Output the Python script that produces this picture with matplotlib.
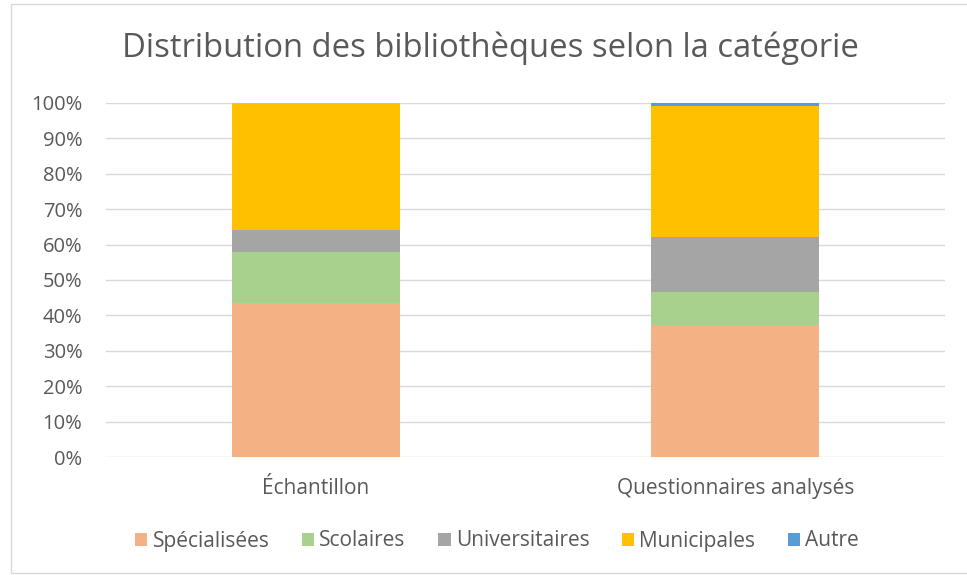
import numpy as np
import matplotlib.pyplot as plt
from matplotlib.patches import Rectangle

plt.rcParams["font.family"] = ["Open Sans", "DejaVu Sans"]

# data (percent of libraries per category)
categories = ["Échantillon", "Questionnaires analysés"]
series_names = ["Spécialisées", "Scolaires", "Universitaires", "Municipales", "Autre"]
specialisees = [43.6, 37.3]
scolaires = [14.4, 9.2]
universitaires = [6.1, 15.7]
municipales = [35.9, 36.9]
autre = [0.0, 0.9]
yticks = [0, 10, 20, 30, 40, 50, 60, 70, 80, 90, 100]

colors = ["#F4B183", "#A9D18E", "#A5A5A5", "#FFC000", "#5B9BD5"]
text_color = "#595959"

fig = plt.figure(figsize=(9.67, 5.75), dpi=100)
ax = fig.add_axes([0.1096, 0.2047, 0.8676, 0.6167])

x = np.arange(len(categories))
bottom = np.zeros(len(categories))
for name, vals, c in zip(series_names,
                         [specialisees, scolaires, universitaires, municipales, autre],
                         colors):
    ax.bar(x, vals, bottom=bottom, width=0.4, color=c, label=name, zorder=3)
    bottom += np.array(vals)

ax.set_xlim(-0.5, 1.5)
ax.set_ylim(0, 100)
ax.set_yticks(yticks)
ax.set_yticklabels([f"{v}%" for v in yticks])
ax.set_xticks(x)
ax.set_xticklabels(categories)
ax.tick_params(axis="both", length=0, colors=text_color)
ax.tick_params(axis="y", pad=17, labelsize=14.5)
ax.tick_params(axis="x", pad=15, labelsize=15)
ax.grid(axis="y", color="#D9D9D9", linewidth=1, zorder=0)
for s in ax.spines.values():
    s.set_visible(False)

fig.text(490 / 967, 1 - 48 / 575, "Distribution des bibliothèques selon la catégorie",
         ha="center", va="center", fontsize=23.6, color=text_color)

fig.legend(*ax.get_legend_handles_labels(), loc="center",
           bbox_to_anchor=(497 / 967, 1 - 541 / 575), ncol=5, frameon=False,
           fontsize=15, labelcolor=text_color, handlelength=0.6, handleheight=0.6,
           handletextpad=0.25, columnspacing=1.55)

# chart border
fig.patches.append(Rectangle((11 / 967, 0.003), 1.0, 1 - 4 / 575 - 0.003,
                             transform=fig.transFigure, fill=False,
                             edgecolor="#D9D9D9", linewidth=1))

fig.savefig("out.png", dpi=100)
